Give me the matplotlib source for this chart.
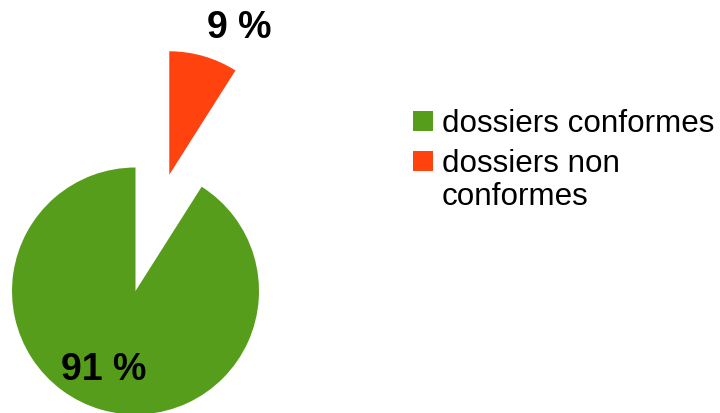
import matplotlib
matplotlib.use("Agg")
import matplotlib.pyplot as plt
from matplotlib.patches import Rectangle

plt.rcParams["font.family"] = ["Liberation Sans", "DejaVu Sans"]

categories = ["dossiers conformes", "dossiers non\nconformes"]
values = [91, 9]
colors = ["#579d1c", "#ff420e"]
explode = [0.0, 0.98]

W, H, DPI = 720, 414, 100
fig = plt.figure(figsize=(W / DPI, H / DPI), dpi=DPI)
ax = fig.add_axes([0, 0, 1, 1])

wedges, _ = ax.pie(values, colors=colors, explode=explode, startangle=90,
                   counterclock=True, radius=1.0,
                   wedgeprops=dict(linewidth=0))

# pie centre and radius in pixels
cx, cy, r = 135.5, 292.0, 123.5
ax.set_aspect("auto")
ax.set_xlim(-cx / r, (W - cx) / r)
ax.set_ylim(-(H - cy) / r, cy / r)
ax.axis("off")

# value labels
label_pos = [(-0.26, -0.635), (0.84, 2.14)]
for v, (x, y) in zip(values, label_pos):
    ax.text(x, y, f"{v} %", ha="center", va="center", fontsize=27,
            fontweight="bold", color="black")

# legend: square swatch aligned with the first line of each label
sq = 19.5
key_x, text_x = 413, 442
line_h = 33.3
baselines = [131.7, 171.7]
for name, col, base in zip(categories, colors, baselines):
    fig.patches.append(Rectangle((key_x / W, 1 - base / H), sq / W, sq / H,
                                 transform=fig.transFigure, facecolor=col,
                                 edgecolor="none"))
    for i, line in enumerate(name.split("\n")):
        y = base + i * line_h
        fig.text(text_x / W, 1 - y / H, line, ha="left", va="baseline",
                 fontsize=22.6, color="black")

fig.savefig("out.png", dpi=DPI)
